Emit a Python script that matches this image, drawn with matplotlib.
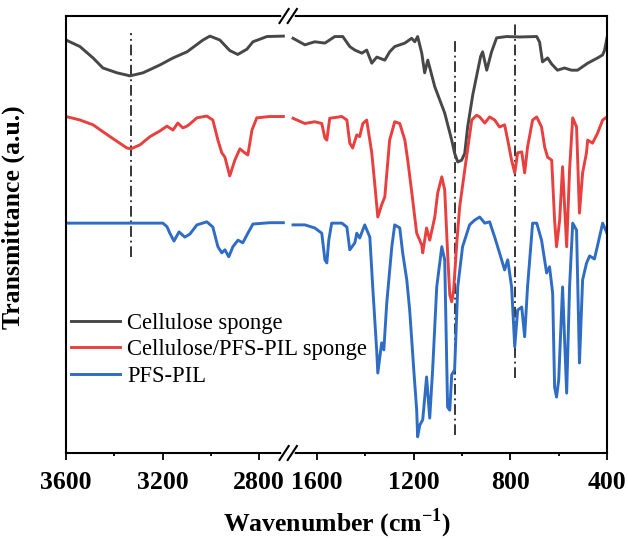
import numpy as np
import matplotlib
matplotlib.use("Agg")
import matplotlib.pyplot as plt

plt.rcParams["font.family"] = "Liberation Serif"
plt.rcParams["mathtext.fontset"] = "custom"
plt.rcParams["mathtext.rm"] = "Liberation Serif"
plt.rcParams["mathtext.bf"] = "Liberation Serif:bold"

# wavenumbers (cm-1) and transmittance (a.u.)
gray_wn = [3600, 3542, 3488, 3447, 3389, 3335, 3281, 3211, 3157, 3099, 3033, 3004, 2963, 2922, 2889, 2851, 2826, 2768, 2700,
           1700, 1651, 1610, 1568, 1527, 1494, 1465, 1444, 1415, 1395, 1374, 1353, 1320, 1300, 1279, 1237, 1209, 1196, 1184, 1167,
           1155, 1142, 1113, 1072, 1043, 1031, 1018, 1002, 989, 977, 956, 935, 923, 915, 898, 878, 857, 816, 762, 691,
           679, 667, 646, 629, 605, 576, 547, 522, 480, 439, 418, 410, 400]
gray_t = [94.5, 93.0, 90.4, 88.1, 87.0, 86.3, 87.0, 88.8, 90.4, 91.8, 94.5, 95.4, 94.5, 92.1, 91.2, 92.4, 94.1, 95.3, 95.4,
          94.9, 93.4, 94.1, 93.8, 95.3, 95.3, 93.0, 92.2, 91.5, 92.2, 89.2, 90.6, 89.9, 91.8, 93.0, 93.8, 94.9, 94.1, 95.3, 91.5,
          87.0, 89.9, 83.8, 77.8, 71.6, 68.6, 66.6, 67.0, 68.6, 74.6, 81.9, 87.6, 90.8, 91.8, 87.6, 91.8, 95.0, 95.3, 95.2, 95.3,
          94.0, 89.5, 90.4, 89.0, 87.6, 88.1, 87.6, 87.6, 89.2, 90.4, 91.1, 92.2, 95.0]

red_wn = [3600, 3542, 3488, 3418, 3348, 3331, 3294, 3252, 3211, 3182, 3157, 3137, 3116, 3099, 3087, 3058, 3017, 2992, 2971, 2955,
          2942, 2922, 2901, 2880, 2860, 2847, 2830, 2810, 2756, 2700,
          1700, 1651, 1610, 1581, 1568, 1560, 1548, 1498, 1477, 1465, 1453, 1436, 1424, 1411, 1395, 1374, 1362, 1349, 1333, 1320,
          1300, 1279, 1258, 1237, 1225, 1208, 1188, 1167, 1163, 1147, 1134, 1113, 1101, 1084, 1072, 1060, 1051, 1043, 1035, 1022,
          1010, 989, 960, 940, 927, 906, 886, 865, 845, 824, 811, 795, 782, 770, 753, 741, 729, 708, 691, 671,
          658, 646, 629, 617, 609, 596, 584, 567, 555, 542, 526, 514, 501, 485, 480, 460, 439, 418, 400]
red_t = [77.0, 76.2, 75.1, 72.4, 69.8, 69.6, 70.5, 72.4, 73.7, 74.8, 73.9, 75.5, 74.4, 74.8, 75.3, 76.7, 77.1, 76.2, 71.6, 68.7,
         67.7, 63.4, 67.0, 69.6, 68.7, 68.2, 73.9, 76.7, 77.0, 77.0,
         76.6, 75.4, 75.8, 75.4, 72.1, 71.6, 76.6, 77.0, 76.2, 70.9, 69.8, 72.8, 72.4, 75.4, 76.2, 68.7, 61.8, 54.0, 56.8, 58.6,
         71.6, 75.8, 75.4, 71.6, 67.0, 59.5, 50.3, 47.6, 45.8, 51.5, 48.7, 54.0, 59.5, 63.2, 60.2, 45.8, 36.2, 34.6, 37.3, 48.1,
         56.3, 64.8, 76.2, 77.3, 76.9, 75.5, 76.9, 76.2, 74.6, 75.1, 71.6, 67.0, 64.1, 68.7, 68.9, 64.1, 70.0, 76.2, 76.9, 74.6,
         70.0, 67.7, 67.0, 53.3, 47.2, 53.3, 65.5, 47.2, 64.8, 76.7, 74.6, 54.9, 64.1, 68.7, 71.6, 70.9, 73.2, 76.2, 76.9]

blue_wn = [3600, 3459, 3252, 3199, 3182, 3170, 3153, 3132, 3108, 3087, 3058, 3017, 2992, 2971, 2955, 2942, 2926, 2909, 2888, 2868,
           2847, 2826, 2756, 2700,
           1700, 1651, 1610, 1581, 1568, 1560, 1552, 1540, 1498, 1477, 1465, 1444, 1436, 1424, 1403, 1382, 1370, 1353, 1349, 1333,
           1324, 1312, 1291, 1279, 1258, 1246, 1229, 1217, 1200, 1188, 1184, 1175, 1163, 1147, 1134, 1122, 1105, 1084, 1072, 1060,
           1051, 1043, 1031, 1018, 998, 969, 948, 927, 906, 886, 865, 845, 824, 811, 795, 782, 770, 753, 741, 729,
           708, 691, 671, 650, 638, 625, 617, 609, 600, 584, 567, 555, 542, 526, 514, 501, 485, 472, 452, 439, 418, 400]
blue_t = [52.6, 52.6, 52.6, 52.6, 51.8, 50.3, 48.5, 50.6, 49.4, 50.1, 52.2, 52.9, 51.7, 47.2, 45.8, 46.5, 44.9, 47.2, 48.7, 48.1,
          50.3, 52.4, 52.7, 52.7,
          52.2, 52.2, 51.5, 50.3, 44.2, 43.5, 48.7, 52.6, 52.6, 51.7, 46.5, 48.1, 50.3, 49.2, 52.2, 49.4, 38.0, 22.9, 18.3, 25.2,
          23.6, 34.3, 47.2, 52.2, 51.5, 45.8, 39.6, 32.7, 19.0, 9.8, 3.7, 6.4, 7.6, 17.4, 8.0, 19.0, 38.0, 47.2, 44.2, 10.5,
          9.8, 17.9, 19.0, 38.0, 47.2, 52.2, 53.3, 54.0, 52.6, 52.9, 49.4, 45.8, 41.9, 44.2, 38.0, 24.3, 32.7, 33.4, 26.6, 38.0,
          52.6, 52.6, 48.7, 41.2, 42.6, 36.6, 15.1, 12.8, 16.7, 38.0, 13.7, 38.0, 52.6, 51.0, 20.6, 39.6, 43.4, 45.1, 44.4, 47.5,
          52.6, 50.3]

labels = ["Cellulose sponge", "Cellulose/PFS-PIL sponge", "PFS-PIL"]
colors = ["#474747", "#E8403F", "#2F6CC4"]

# dash-dot guide lines
mark_wn = [3330, 1030, 780]
mark_top = [96.2, 94.5, 98.2]
mark_bottom = [44.8, 4.1, 17.2]

major_wn = [3600, 3200, 2800, 1600, 1200, 800, 400]
minor_wn = [3400, 3000, 1400, 1000, 600]

GAP = 40  # axis units between 2700 and 1700


def to_pos(wn):
    wn = np.asarray(wn, dtype=float)
    return np.where(wn >= 2200, 3600 - wn, 900 + GAP + 1700 - wn)


fig = plt.figure(figsize=(6.28, 5.39), dpi=100)
ax = fig.add_axes([66 / 628, 1 - 453 / 539, 541 / 628, 437 / 539])

for wn, t, lab, c in zip([gray_wn, red_wn, blue_wn], [gray_t, red_t, blue_t], labels, colors):
    wn = np.array(wn)
    t = np.array(t)
    hi = wn >= 2200
    ax.plot(to_pos(wn[hi]), t[hi], color=c, lw=2.1, label=lab, solid_joinstyle="round")
    ax.plot(to_pos(wn[~hi]), t[~hi], color=c, lw=2.1, solid_joinstyle="round")

for w, top, bot in zip(mark_wn, mark_top, mark_bottom):
    p = float(to_pos(w))
    ax.plot([p, p], [bot, top], color="black", lw=1.1, dashes=(7, 2.5, 1.2, 2.5), zorder=1)

ax.set_xlim(0, 900 + GAP + 1300)
ax.set_ylim(0, 100)
ax.set_xticks(to_pos(major_wn))
ax.set_xticklabels([str(w) for w in major_wn], fontsize=18.5, fontweight="bold")
ax.set_xticks(to_pos(minor_wn), minor=True)
ax.set_yticks([])
ax.tick_params(axis="x", which="major", direction="out", length=5, width=1.3, pad=8)
ax.tick_params(axis="x", which="minor", direction="out", length=2.5, width=1.3)
for s in ax.spines.values():
    s.set_linewidth(1.5)

ax.set_xlabel(r"Wavenumber (cm$^{\mathbf{-1}}$)", fontsize=18.5, fontweight="bold", labelpad=9)
ax.set_ylabel("Transmittance (a.u.)", fontsize=18.5, fontweight="bold")
ax.yaxis.set_label_coords(-0.075, 0.54)

# axis break marks
xa = 903 / 2240
xb = 937 / 2240
for y in (0, 1):
    ax.plot([xa, xb], [y, y], transform=ax.transAxes, color="white", lw=4, clip_on=False, zorder=5)
    for xc in (xa, xb):
        ax.plot([xc - 0.0085, xc + 0.0085], [y - 0.016, y + 0.016], transform=ax.transAxes,
                color="black", lw=1.5, clip_on=False, zorder=6)

ax.legend(loc="center left", bbox_to_anchor=(0.0, 0.236), frameon=False, fontsize=16.3,
          handlelength=2.2, handletextpad=0.3, labelspacing=0.25, borderaxespad=0, borderpad=0.2)

fig.savefig("out.png", dpi=100)
